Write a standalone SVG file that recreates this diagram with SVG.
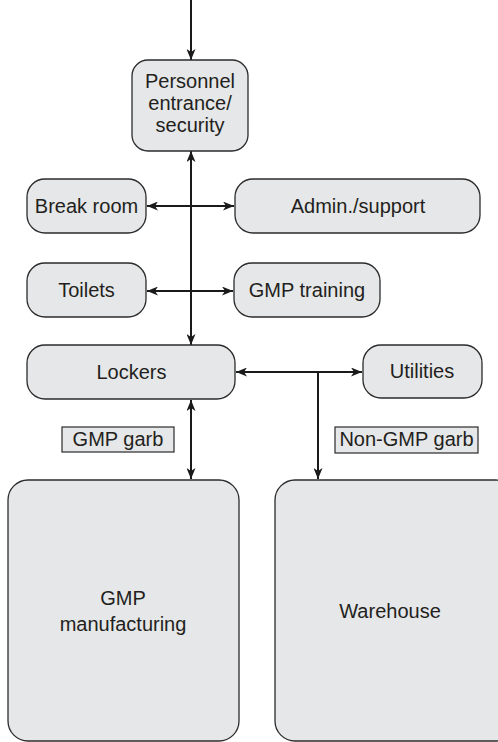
<svg xmlns="http://www.w3.org/2000/svg" width="498" height="742" viewBox="0 0 498 742">
  <style>
    .box { fill: #e6e7e8; stroke: #2b2b2b; stroke-width: 1.3; }
    .tag { fill: #e6e7e8; stroke: #2b2b2b; stroke-width: 1.2; }
    .lbl { font-family: "Liberation Sans", Arial, sans-serif; font-size: 20px; fill: #231f20; text-anchor: middle; }
    .wire { fill: none; stroke: #1a1a1a; stroke-width: 2; }
  </style>
  <defs>
    <marker id="head" viewBox="0 0 11 9" refX="11" refY="4.5" markerWidth="11" markerHeight="9" markerUnits="userSpaceOnUse" orient="auto-start-reverse">
      <path d="M0,0 L11,4.5 L0,9 L3,4.5 Z" fill="#1a1a1a"/>
    </marker>
  </defs>

  <rect width="498" height="742" fill="#ffffff"/>

  <g id="connectors">
    <!-- incoming to entrance -->
    <path class="wire" d="M191,0 V60" marker-end="url(#head)"/>
    <!-- main spine entrance to lockers -->
    <path class="wire" d="M191,151 V345" marker-start="url(#head)" marker-end="url(#head)"/>
    <!-- break room / admin -->
    <path class="wire" d="M147,206 H234" marker-start="url(#head)" marker-end="url(#head)"/>
    <!-- toilets / training -->
    <path class="wire" d="M147,291 H233" marker-start="url(#head)" marker-end="url(#head)"/>
    <!-- through lockers -->
    <path class="wire" d="M191,347 V398" marker-start="url(#head)" marker-end="url(#head)"/>
    <!-- lockers to GMP manufacturing -->
    <path class="wire" d="M191,400 V479" marker-start="url(#head)" marker-end="url(#head)"/>
    <!-- lockers / utilities -->
    <path class="wire" d="M236,372 H362" marker-start="url(#head)" marker-end="url(#head)"/>
    <!-- branch to warehouse -->
    <path class="wire" d="M318,372 V479" marker-end="url(#head)"/>
  </g>

  <g id="entrance">
    <rect class="box" x="132" y="60" width="116" height="91" rx="16"/>
    <text class="lbl" x="190" y="88">Personnel</text>
    <text class="lbl" x="190" y="110">entrance/</text>
    <text class="lbl" x="190" y="132">security</text>
  </g>

  <g id="break-room">
    <rect class="box" x="27" y="179" width="119" height="54" rx="18"/>
    <text class="lbl" x="86.5" y="213">Break room</text>
  </g>

  <g id="admin">
    <rect class="box" x="235" y="179" width="245" height="54" rx="18"/>
    <text class="lbl" x="358" y="213">Admin./support</text>
  </g>

  <g id="toilets">
    <rect class="box" x="27" y="263" width="119" height="54" rx="18"/>
    <text class="lbl" x="86.5" y="297">Toilets</text>
  </g>

  <g id="gmp-training">
    <rect class="box" x="234" y="263" width="146" height="54" rx="18"/>
    <text class="lbl" x="307" y="297">GMP training</text>
  </g>

  <g id="lockers">
    <rect class="box" x="27" y="345" width="208" height="54" rx="18"/>
    <text class="lbl" x="131.5" y="379">Lockers</text>
  </g>

  <g id="utilities">
    <rect class="box" x="363" y="345" width="119" height="53" rx="18"/>
    <text class="lbl" x="422" y="378">Utilities</text>
  </g>

  <g id="gmp-garb">
    <rect class="tag" x="62" y="427" width="112" height="25"/>
    <text class="lbl" x="118" y="446">GMP garb</text>
  </g>

  <g id="non-gmp-garb">
    <rect class="tag" x="335" y="427" width="143" height="26"/>
    <text class="lbl" x="406.5" y="446">Non-GMP garb</text>
  </g>

  <g id="gmp-manufacturing">
    <rect class="box" x="8" y="480" width="231" height="261" rx="20"/>
    <text class="lbl" x="123" y="605">GMP</text>
    <text class="lbl" x="123" y="631">manufacturing</text>
  </g>

  <g id="warehouse">
    <rect class="box" x="275" y="480" width="240" height="261" rx="20"/>
    <text class="lbl" x="390" y="618">Warehouse</text>
  </g>
</svg>
